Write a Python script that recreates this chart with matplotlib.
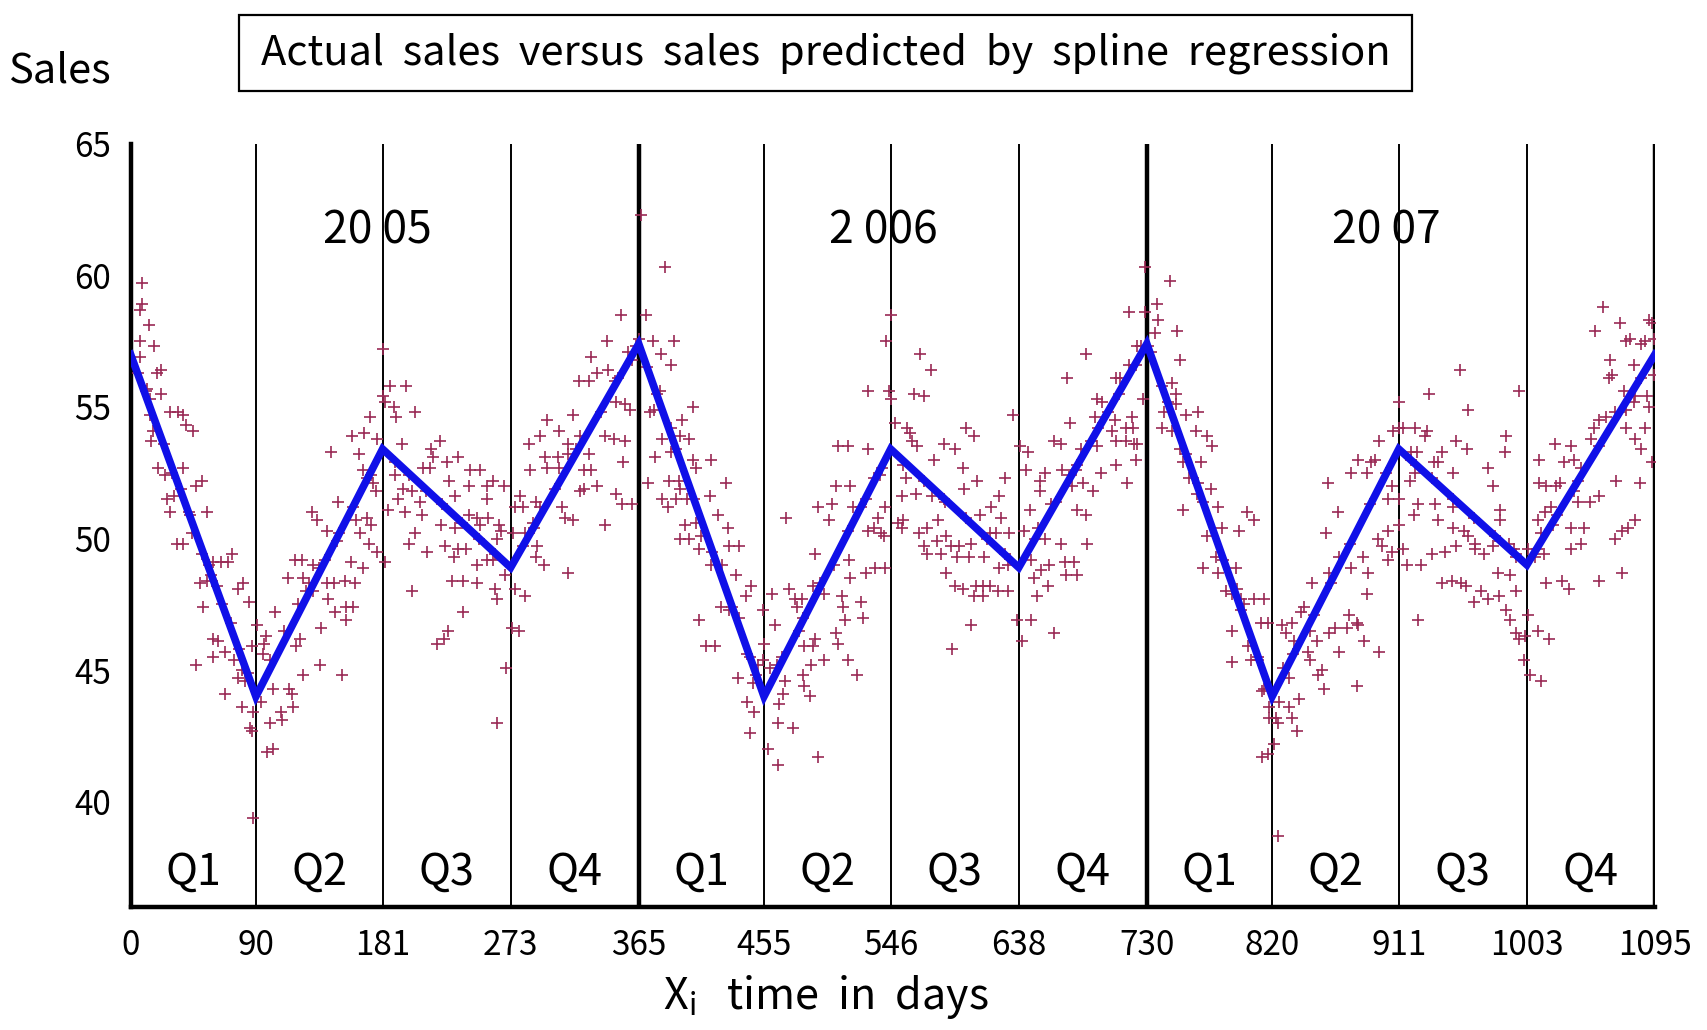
import matplotlib
matplotlib.use("Agg")
import matplotlib.pyplot as plt
from matplotlib.patches import Rectangle

plt.rcParams['font.family'] = ['Noto Sans CJK KR', 'DejaVu Sans']
plt.rcParams['mathtext.fontset'] = 'custom'
plt.rcParams['mathtext.rm'] = 'Noto Sans CJK KR'
plt.rcParams['mathtext.it'] = 'Noto Sans CJK KR'

# spline prediction (knots at quarter boundaries)
knot_days = [0, 90, 181, 273, 365, 455, 546, 638, 730, 820, 911, 1003, 1095]
knot_sales = [57.0, 44.0, 53.4, 48.9, 57.4, 44.0, 53.4, 48.9, 57.4, 44.0, 53.4, 49.0, 57.0]

x_ticks = [0, 90, 181, 273, 365, 455, 546, 638, 730, 820, 911, 1003, 1095]
y_ticks = [40, 45, 50, 55, 60, 65]
quarter_lines = [90, 181, 273, 455, 546, 638, 820, 911, 1003]
year_lines = [365, 730, 1095]
quarter_names = ['Q1', 'Q2', 'Q3', 'Q4'] * 3
year_names = ['20 05', '2 006', '20 07']
year_centers = [177, 541, 902]

# actual sales (day, sales)
obs_2005 = [
    (8, 59.7), (8, 58.9), (7, 58.7), (13, 58.1), (7, 57.5), (17, 57.3), (7, 56.9), (22, 56.4), (19, 56.3),
    (12, 55.7), (22, 55.5), (14, 55.3), (28, 54.8), (34, 54.8), (38, 54.7), (14, 54.7), (40, 54.3), (45, 54.1),
    (16, 54.1), (15, 53.7), (20, 52.7), (25, 52.4), (38, 52.7), (47, 52.0), (51, 52.2), (26, 51.5), (31, 51.6),
    (28, 51.0), (43, 50.9), (55, 51.0), (44, 50.2), (33, 49.8), (38, 49.8), (51, 49.4), (59, 49.1), (70, 49.1),
    (73, 49.4), (65, 49.1), (50, 48.3), (55, 48.4), (58, 48.6), (81, 48.3), (77, 48.1), (52, 47.4), (85, 47.6),
    (59, 46.2), (63, 46.1), (59, 45.5), (68, 45.7), (47, 45.2), (74, 45.4), (80, 45.0), (82, 44.6), (77, 44.7),
    (87, 45.9), (68, 44.1), (80, 43.6), (88, 43.4), (87, 42.7), (88, 39.4), (86, 42.8),
    (5, 56.3), (11, 55.6), (24, 53.6), (30, 52.5), (36, 51.9), (42, 51.0), (56, 49.0), (62, 48.2), (66, 47.5),
    (72, 46.8), (78, 45.8), (84, 44.9),
    (91, 46.7), (97, 46.3), (96, 46.0), (95, 45.6), (94, 43.8), (102, 44.3), (114, 44.3), (116, 44.1), (108, 43.4),
    (109, 43.1), (100, 43.0), (117, 43.6), (104, 47.2), (122, 46.2), (119, 45.9), (124, 44.8), (136, 45.2),
    (152, 44.8), (113, 48.5), (124, 48.5), (118, 49.2), (123, 49.2), (131, 49.0), (135, 48.9), (128, 48.3),
    (131, 48.0), (141, 48.3), (146, 48.3), (142, 47.7), (154, 48.4), (161, 48.3), (147, 47.2), (155, 47.4),
    (160, 47.4), (155, 46.9), (137, 46.6), (130, 51.0), (134, 50.7), (141, 50.3), (149, 51.4), (148, 49.9),
    (158, 49.1), (167, 48.9), (162, 50.7), (170, 50.8), (173, 50.5), (165, 50.2), (171, 49.8), (177, 49.5),
    (159, 53.9), (168, 54.0), (144, 53.3), (164, 53.2), (167, 52.6), (173, 52.4), (172, 54.6), (177, 53.8),
    (174, 52.1), (176, 51.8), (98, 41.9), (102, 42.0),
    (100, 45.4), (110, 46.5), (120, 47.5), (126, 48.0), (140, 49.2), (150, 50.2), (160, 51.2), (170, 52.3),
    (181, 57.2), (181, 55.4), (183, 55.2), (183, 49.1), (186, 55.8), (198, 55.8), (189, 55.0), (191, 54.6),
    (204, 54.8), (195, 53.6), (190, 52.4), (196, 51.9), (202, 51.8), (216, 53.4), (222, 53.7), (217, 53.1),
    (227, 52.9), (235, 53.1), (210, 52.7), (215, 52.7), (229, 52.2), (244, 52.6), (251, 52.6), (243, 52.0),
    (256, 52.0), (260, 52.2), (268, 52.0), (233, 51.6), (256, 51.5), (192, 51.5), (197, 51.0), (185, 51.1),
    (208, 51.4), (209, 50.9), (223, 50.5), (233, 50.4), (243, 50.9), (249, 50.8), (251, 50.5), (257, 50.8),
    (265, 50.5), (204, 50.2), (200, 49.8), (213, 49.5), (226, 49.7), (235, 49.6), (241, 49.6), (232, 49.3),
    (249, 49.0), (256, 49.2), (260, 49.2), (263, 50.0), (266, 50.3), (202, 48.0), (231, 48.4), (239, 48.4),
    (249, 48.3), (262, 48.1), (263, 47.7), (239, 47.2), (220, 46.0), (225, 46.2), (228, 46.5), (263, 43.0),
    (270, 45.1), (269, 48.6),
    (190, 52.9), (200, 52.4), (212, 51.8), (224, 51.3), (238, 50.6), (250, 50.0), (262, 49.4),
    (274, 46.6), (279, 46.5), (276, 48.1), (283, 47.8), (275, 50.2), (283, 50.2), (282, 49.7), (276, 51.2),
    (282, 51.2), (280, 51.6), (291, 51.4), (294, 51.2), (289, 50.6), (287, 52.6), (286, 53.6), (294, 53.9),
    (299, 54.5), (298, 53.1), (299, 52.7), (292, 49.7), (297, 49.0), (291, 49.3),
    (318, 54.7), (308, 54.1), (314, 53.6), (323, 53.9), (307, 53.1), (308, 52.7), (314, 53.2), (329, 53.2),
    (326, 52.6), (331, 52.6), (323, 51.8), (326, 51.9), (335, 52.0), (310, 51.2), (312, 50.8), (318, 50.7),
    (341, 50.5), (314, 48.7), (322, 56.0), (329, 56.0), (335, 56.3), (343, 56.4), (331, 56.9), (342, 57.5),
    (352, 58.5), (348, 56.0), (349, 55.2), (355, 55.1), (359, 54.9), (341, 53.9), (347, 53.8), (355, 53.7),
    (354, 52.9), (349, 51.7), (353, 51.3), (360, 51.3), (357, 57.1), (363, 57.3),
    (290, 50.4), (305, 51.9), (320, 53.4), (338, 54.8), (350, 56.1), (360, 56.8),
]

obs_2006 = [
    (365, 57.6), (367, 62.3), (370, 58.5), (384, 60.3), (375, 57.5), (381, 57.0), (390, 57.5), (388, 56.6),
    (371, 56.5), (380, 55.6), (376, 54.9), (373, 54.8), (404, 55.0), (396, 54.5), (388, 54.2), (395, 53.9),
    (401, 53.8), (382, 53.8), (377, 53.1), (388, 53.3), (372, 52.1), (387, 52.2), (394, 52.2), (404, 53.0),
    (406, 52.7), (417, 53.0), (395, 51.9), (428, 52.1), (382, 51.5), (392, 51.5), (400, 51.5), (386, 51.2),
    (416, 51.6), (398, 50.5), (406, 50.6), (422, 50.9), (429, 50.4), (395, 50.0), (401, 50.0), (410, 50.1),
    (430, 49.7), (437, 49.7), (408, 49.6), (417, 49.0), (425, 49.0), (435, 48.6), (446, 48.2), (442, 47.8),
    (408, 46.9), (424, 47.4), (430, 47.3), (437, 47.0), (413, 45.9), (420, 45.9), (436, 44.7), (443, 45.6),
    (451, 45.2), (454, 45.4), (447, 44.5), (449, 44.8), (443, 43.8), (448, 43.4), (445, 42.6), (454, 47.3),
    (455, 46.0),
    (378, 55.5), (392, 53.4), (405, 51.5), (418, 49.5), (432, 47.4), (445, 45.5),
    (461, 47.9), (473, 48.1), (463, 46.7), (464, 45.2), (459, 45.1), (470, 44.6), (469, 44.1), (466, 43.7),
    (465, 43.0), (476, 42.8), (477, 47.7), (482, 47.7), (479, 47.4), (483, 47.0), (490, 48.2), (498, 47.9),
    (483, 44.8), (484, 44.4), (488, 44.0), (489, 45.2), (498, 45.4), (484, 45.9), (490, 45.9), (492, 46.2),
    (471, 50.8), (492, 49.4), (494, 51.2), (504, 51.3), (502, 50.7), (507, 52.0), (517, 52.0), (508, 53.5),
    (515, 53.5), (530, 53.4), (519, 51.2), (525, 51.2), (516, 49.2), (517, 48.5), (528, 48.7), (535, 48.9),
    (542, 48.9), (511, 47.8), (512, 47.4), (525, 47.6), (526, 47.0), (513, 46.9), (507, 46.4), (508, 46.0),
    (515, 45.4), (522, 44.8), (530, 50.3), (534, 50.4), (539, 50.2), (534, 52.3), (540, 52.7), (530, 55.6),
    (543, 57.5), (546, 58.5), (545, 55.6), (546, 55.3), (542, 51.2), (541, 50.1), (537, 50.8), (465, 41.4),
    (494, 41.7), (458, 42.0),
    (468, 45.5), (480, 46.5), (495, 48.3), (505, 49.0), (515, 50.3), (528, 51.5), (538, 52.4),
    (567, 57.0), (575, 56.4), (563, 55.5), (570, 55.4), (549, 54.4), (558, 54.2), (560, 54.0), (561, 53.7),
    (565, 53.5), (584, 53.6), (592, 53.4), (600, 54.2), (606, 53.9), (557, 52.3), (577, 53.0), (598, 52.7),
    (554, 51.6), (564, 51.7), (576, 51.6), (584, 51.5), (599, 51.9), (608, 52.2), (628, 52.3), (624, 51.6),
    (551, 50.6), (554, 50.4), (555, 50.7), (572, 50.4), (580, 50.7), (586, 50.1), (579, 49.9), (566, 50.2),
    (570, 49.7), (572, 49.4), (582, 49.4), (589, 49.7), (595, 49.7), (604, 49.8), (594, 49.3), (602, 49.3),
    (613, 49.3), (610, 50.9), (618, 51.2), (625, 50.8), (622, 50.2), (631, 50.2), (624, 48.9), (630, 49.0),
    (586, 48.7), (592, 48.2), (598, 48.1), (607, 48.2), (612, 48.2), (617, 48.2), (623, 48.0), (630, 48.0),
    (606, 47.8), (612, 47.8), (604, 46.7), (590, 45.8), (617, 50.2), (634, 54.7), (637, 46.9),
    (555, 52.8), (570, 52.2), (585, 51.4), (600, 50.8), (615, 50.0), (628, 49.4),
    (663, 53.7), (645, 53.3), (639, 53.5), (643, 52.6), (657, 52.5), (653, 52.2), (653, 51.8), (646, 51.1),
    (661, 51.3), (642, 50.3), (652, 50.4), (657, 50.0), (647, 49.2), (654, 48.8), (660, 49.0), (649, 48.5),
    (659, 48.2), (651, 47.8), (663, 46.4), (640, 46.1), (647, 46.9),
    (668, 53.6), (669, 52.6), (671, 49.1), (672, 48.6), (680, 48.6), (678, 49.1), (668, 49.8), (673, 56.1),
    (686, 57.0), (675, 54.4), (683, 53.4), (690, 53.7), (694, 53.5), (674, 52.4), (679, 52.6), (676, 52.0),
    (684, 52.1), (691, 51.8), (697, 52.5), (708, 52.8), (680, 51.1), (686, 50.9), (687, 49.8), (716, 52.1),
    (722, 53.0), (708, 53.7), (715, 53.7), (723, 53.6), (705, 54.1), (715, 54.2), (694, 55.3), (698, 55.2),
    (702, 54.8), (707, 54.5), (693, 54.6), (719, 54.6), (711, 56.1), (717, 56.6), (708, 56.1), (717, 58.6),
    (726, 57.3), (723, 57.3), (720, 54.2), (721, 53.6), (727, 55.3), (729, 60.3), (729, 58.6),
    (650, 50.0), (665, 51.4), (680, 52.8), (695, 54.2), (710, 55.5), (722, 56.6),
]

obs_2007 = [
    (747, 59.8), (737, 58.9), (738, 58.3), (752, 57.9), (754, 56.8), (736, 57.8), (731, 57.3), (733, 57.1),
    (741, 55.8), (748, 55.9), (751, 55.5), (742, 54.8), (751, 55.1), (741, 54.2), (748, 54.1), (754, 53.4),
    (758, 54.7), (767, 54.8), (765, 54.1), (773, 53.9), (777, 53.5), (756, 52.9), (769, 52.9), (760, 52.3),
    (767, 52.1), (766, 51.7), (776, 51.9), (756, 51.1), (773, 50.1), (784, 50.4), (781, 51.2), (770, 48.9),
    (780, 49.3), (781, 48.7), (794, 48.9), (796, 50.3), (802, 51.0), (807, 50.7), (787, 48.0), (791, 47.9),
    (795, 48.1), (798, 47.7), (800, 47.5), (807, 47.7), (814, 47.7), (791, 46.5), (803, 45.9), (812, 46.8),
    (817, 46.8), (805, 45.4), (810, 45.4), (791, 45.3), (814, 44.3), (813, 44.2), (818, 43.6), (818, 43.2),
    (817, 41.8), (813, 41.7),
    (745, 55.2), (758, 53.2), (770, 51.4), (785, 49.2), (798, 47.3), (810, 45.5),
    (823, 43.2), (821, 42.2), (824, 38.7), (827, 46.7), (834, 46.8), (830, 46.4), (836, 46.1), (828, 45.1),
    (832, 44.7), (834, 43.2), (832, 43.6), (838, 42.7), (825, 43.8), (824, 43.0), (839, 43.9), (841, 47.2),
    (843, 47.4), (847, 46.5), (852, 46.1), (849, 48.3), (847, 45.4), (846, 45.7), (853, 44.8), (856, 45.0),
    (857, 44.3), (881, 44.4), (859, 50.2), (861, 46.4), (865, 46.6), (874, 46.6), (881, 46.8), (886, 46.1),
    (868, 45.7), (897, 45.7), (861, 48.7), (868, 49.3), (875, 47.1), (882, 46.7), (867, 51.0), (877, 48.9),
    (885, 49.3), (889, 48.7), (888, 47.9), (877, 52.5), (882, 53.0), (888, 52.5), (891, 52.9), (894, 53.0),
    (897, 53.7), (896, 50.0), (899, 49.7), (903, 49.2), (903, 50.3), (906, 49.5), (903, 51.5), (906, 52.0),
    (860, 52.1), (907, 54.1), (911, 55.2), (911, 54.2),
    (835, 45.6), (850, 47.1), (862, 48.3), (876, 49.8), (890, 51.3), (902, 52.5),
    (914, 49.6), (917, 49.0), (911, 50.5), (911, 51.5), (914, 54.2), (923, 54.2), (931, 54.1), (930, 53.9),
    (920, 53.3), (924, 53.3), (942, 53.3), (952, 53.7), (960, 53.4), (933, 55.5), (955, 56.4), (961, 54.9),
    (988, 53.9), (987, 53.3), (936, 52.9), (939, 52.9), (950, 52.5), (975, 52.7), (923, 52.5), (919, 52.2),
    (979, 52.0), (925, 51.3), (922, 50.9), (937, 51.3), (950, 51.2), (984, 51.1), (939, 50.7), (950, 50.4),
    (958, 50.3), (961, 50.1), (966, 49.8), (952, 49.7), (944, 49.5), (935, 49.4), (966, 49.6), (972, 49.4),
    (979, 49.7), (990, 49.8), (984, 50.7), (927, 49.0), (994, 49.6), (995, 49.3), (982, 48.7), (991, 48.6),
    (942, 48.3), (949, 48.4), (956, 48.3), (959, 48.2), (970, 48.0), (975, 47.7), (983, 47.8), (965, 47.6),
    (995, 48.0), (988, 47.3), (991, 46.9), (995, 46.4), (997, 46.2), (925, 46.9), (997, 55.6),
    (920, 53.0), (935, 52.3), (950, 51.5), (965, 50.8), (980, 50.1), (995, 49.4),
    (1004, 47.1), (1002, 46.3), (1001, 45.4), (1011, 46.5), (1019, 46.2), (1013, 44.6), (1005, 44.8),
    (1004, 49.6), (1009, 49.3), (1015, 49.4), (1017, 48.3), (1028, 48.4), (1033, 48.1), (1011, 50.7),
    (1013, 50.2), (1022, 50.5), (1016, 51.0), (1020, 51.2), (1012, 52.1), (1017, 52.0), (1024, 52.0),
    (1027, 52.1), (1012, 53.0), (1023, 53.6), (1035, 53.5), (1030, 52.9), (1037, 53.0), (1042, 52.7),
    (1037, 51.8), (1040, 51.4), (1048, 51.4), (1055, 51.6), (1035, 50.4), (1044, 50.4), (1042, 49.8),
    (1035, 49.6), (1055, 48.4), (1066, 50.0), (1071, 50.3), (1076, 50.4), (1081, 50.7), (1071, 48.7),
    (1049, 53.8), (1051, 54.2), (1055, 54.5), (1067, 52.2), (1084, 52.1), (1060, 54.6), (1066, 54.8),
    (1074, 54.9), (1080, 55.2), (1074, 54.2), (1081, 53.8), (1088, 54.2), (1085, 53.4), (1093, 52.9),
    (1073, 55.6), (1081, 55.4), (1089, 55.4), (1091, 55.0), (1063, 56.8), (1080, 56.6), (1064, 56.2),
    (1062, 56.1), (1074, 57.5), (1088, 57.5), (1094, 57.6), (1077, 57.6), (1085, 57.4), (1070, 58.2),
    (1091, 58.3), (1093, 58.2), (1058, 58.8), (1052, 57.9), (1094, 56.2),
    (1010, 49.6), (1025, 50.9), (1040, 52.2), (1055, 53.5), (1070, 54.8), (1085, 56.1),
]

RED = '#9a2a55'
BLUE = '#1010e8'

fig = plt.figure(figsize=(17.07, 10.30), dpi=100)
ax = fig.add_axes([0.0765, 0.1194, 0.893, 0.741])

# actual sales
for obs in [obs_2005, obs_2006, obs_2007]:
    ax.plot([p[0] for p in obs], [p[1] for p in obs], linestyle='none',
            marker='+', markersize=8, markeredgewidth=1.2, color=RED, zorder=3)

# spline fit
ax.plot(knot_days, knot_sales, color=BLUE, lw=5.5, zorder=4, solid_joinstyle='miter')

for d in quarter_lines:
    ax.axvline(d, color='black', lw=1.4, zorder=2)
for d in year_lines:
    ax.axvline(d, color='black', lw=3.2, zorder=2)

# quarter labels
bounds = [0] + sorted(quarter_lines + year_lines)
for i, name in enumerate(quarter_names):
    ax.text((bounds[i] + bounds[i + 1]) / 2, 37.3, name, ha='center', va='center', fontsize=31)

for name, xc in zip(year_names, year_centers):
    ax.text(xc, 61.7, name, ha='center', va='center', fontsize=32)

ax.set_xlim(0, 1095)
ax.set_ylim(36, 65)
ax.set_xticks(x_ticks)
ax.set_xticklabels([str(t) for t in x_ticks])
ax.set_yticks(y_ticks)
ax.tick_params(axis='both', length=0, labelsize=24)
ax.tick_params(axis='x', pad=15)
ax.tick_params(axis='y', pad=14)

for s in ['top', 'right']:
    ax.spines[s].set_visible(False)
for s in ['left', 'bottom']:
    ax.spines[s].set_linewidth(3.2)

ax.set_xlabel(r'X$_\mathrm{i}$   time  in  days', fontsize=31)
ax.xaxis.set_label_coords(0.456, -0.087)

# title box
fig.patches.append(Rectangle((0.1403, 0.9117), 0.6869, 0.0738, transform=fig.transFigure,
                             fill=False, edgecolor='black', lw=1.6))
fig.text(0.4838, 0.9485, 'Actual  sales  versus  sales  predicted  by  spline  regression',
         ha='center', va='center', fontsize=30)
fig.text(0.005, 0.931, 'Sales', ha='left', va='center', fontsize=30)

fig.savefig('out.png', dpi=100)
